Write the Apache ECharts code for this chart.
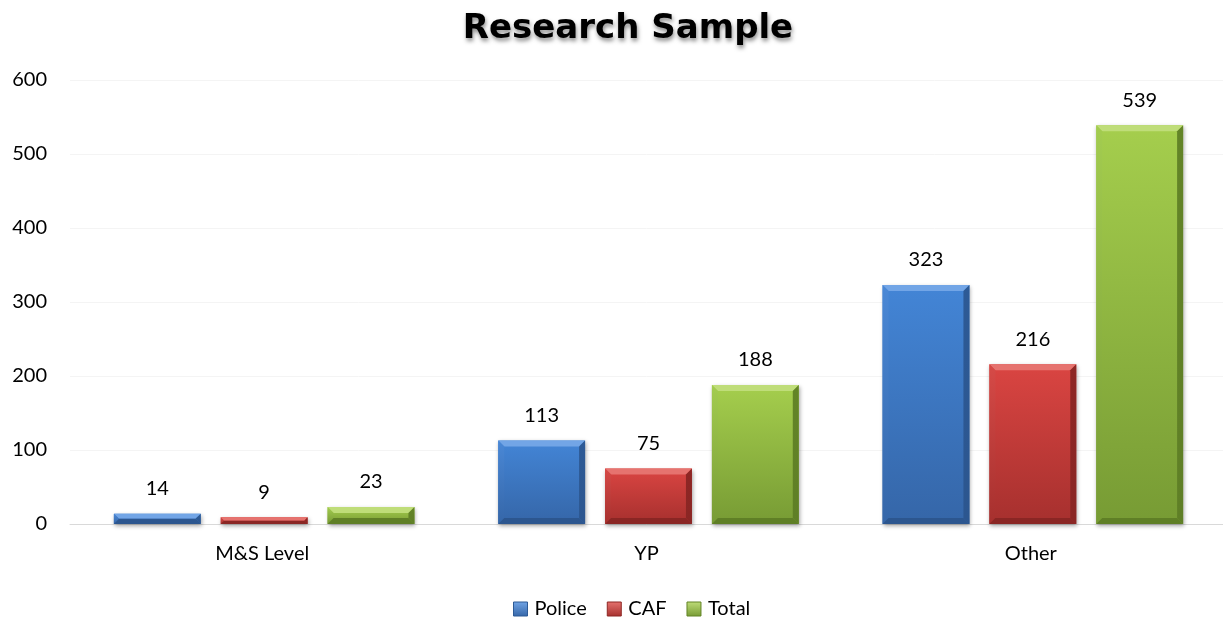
<!DOCTYPE html>
<html>
<head>
<meta charset="utf-8">
<title>Research Sample</title>
<script src="https://cdn.jsdelivr.net/npm/echarts@6/dist/echarts.min.js"></script>
<style>
  html, body { margin: 0; padding: 0; background: #fff; }
  #chart { width: 1223px; height: 622px; }
</style>
</head>
<body>
<div id="chart"></div>
<script>
// Data
const categories = ['M&S Level', 'YP', 'Other'];
const police = [14, 113, 323];
const caf = [9, 75, 216];
const total = [23, 188, 539];
const seriesNames = ['Police', 'CAF', 'Total'];
const yMin = 0, yMax = 600, yStep = 100;

const G = echarts.graphic;
const vgrad = (a, b) => new G.LinearGradient(0, 0, 0, 1, [{ offset: 0, color: a }, { offset: 1, color: b }]);

// Bevelled bar colours: face top/bottom, top bevel, left, right, bottom edges
const palettes = [
  { faceTop: '#4385d6', faceBot: '#3566a8', top: '#72a5e6', left: '#4a88d6', right: '#2d5a96', bottom: '#2c568f', legend: '#3a72bd' },
  { faceTop: '#da4542', faceBot: '#a6302e', top: '#e6736f', left: '#d64a47', right: '#8e2725', bottom: '#8a2624', legend: '#c23b39' },
  { faceTop: '#a5ce4d', faceBot: '#779b34', top: '#bfdd79', left: '#a3cc50', right: '#638427', bottom: '#5f7f26', legend: '#8fb541' }
];

function makeRender(slot, pal) {
  return function (params, api) {
    const cat = api.value(0);
    const v = api.value(1);
    const base = api.coord([cat, 0]);
    const top = api.coord([cat, v]);
    const band = api.size([1, 0])[0];
    const w = band * 0.226;
    const gap = band * 0.052;
    const cx = base[0] + 2 + (slot - 1) * (w + gap);
    const x0 = cx - w / 2, x1 = cx + w / 2;
    const y0 = top[1], y1 = base[1];
    const h = y1 - y0;
    const b = Math.min(6, h / 2, w / 2);
    return {
      type: 'group',
      children: [
        {
          type: 'rect',
          shape: { x: x0, y: y0, width: w, height: h },
          style: {
            fill: vgrad(pal.faceTop, pal.faceBot),
            shadowBlur: 4, shadowColor: 'rgba(0,0,0,0.35)', shadowOffsetX: 1, shadowOffsetY: 2
          }
        },
        { type: 'polygon', shape: { points: [[x0, y0], [x1, y0], [x1 - b, y0 + b], [x0 + b, y0 + b]] }, style: { fill: pal.top } },
        { type: 'polygon', shape: { points: [[x0, y0], [x0 + b, y0 + b], [x0 + b, y1 - b], [x0, y1]] }, style: { fill: vgrad(pal.left, pal.faceBot) } },
        { type: 'polygon', shape: { points: [[x1, y0], [x1, y1], [x1 - b, y1 - b], [x1 - b, y0 + b]] }, style: { fill: vgrad(pal.right, pal.bottom) } },
        { type: 'polygon', shape: { points: [[x0, y1], [x0 + b, y1 - b], [x1 - b, y1 - b], [x1, y1]] }, style: { fill: pal.bottom } },
        {
          type: 'text',
          x: cx, y: y0 - 15,
          style: { text: String(v), fill: '#000', font: '20px Lato', align: 'center', verticalAlign: 'bottom' }
        }
      ]
    };
  };
}

const valueSets = [police, caf, total];
const series = valueSets.map((vals, i) => ({
  name: seriesNames[i],
  type: 'custom',
  renderItem: makeRender(i, palettes[i]),
  itemStyle: { color: palettes[i].legend },
  encode: { x: 0, y: 1 },
  data: vals.map((v, k) => [k, v])
}));

const chart = echarts.init(document.getElementById('chart'), null, { renderer: 'canvas' });
chart.setOption({
  animation: false,
  backgroundColor: '#fff',
  title: {
    text: 'Research Sample',
    left: 623,
    top: 7,
    textAlign: 'center',
    textStyle: {
      fontFamily: 'DejaVu Sans', fontWeight: 'bold', fontSize: 34, color: '#000',
      textShadowColor: 'rgba(0,0,0,0.45)', textShadowBlur: 4, textShadowOffsetX: 1, textShadowOffsetY: 3
    }
  },
  legend: {
    left: 508,
    top: 594,
    itemWidth: 14,
    itemHeight: 14,
    itemGap: 20,
    icon: 'rect',
    textStyle: { fontFamily: 'Lato', fontSize: 20, color: '#000', padding: [0, 0, 0, 2] },
    data: seriesNames.map((n, i) => ({
      name: n,
      itemStyle: { color: vgrad(palettes[i].top, palettes[i].faceBot), borderColor: palettes[i].right, borderWidth: 1 }
    }))
  },
  grid: { left: 70, right: 0, top: 80, bottom: 98 },
  xAxis: {
    type: 'category',
    data: categories,
    axisLine: { show: true, lineStyle: { color: '#d9d9d9', width: 1 } },
    axisTick: { show: false },
    axisLabel: { fontFamily: 'Lato', fontSize: 20, color: '#000', margin: 20 },
    splitLine: { show: false }
  },
  yAxis: {
    type: 'value',
    min: yMin, max: yMax, interval: yStep,
    axisLine: { show: false },
    axisTick: { show: false },
    axisLabel: { fontFamily: 'Lato', fontSize: 20, color: '#000', margin: 23 },
    splitLine: { show: true, lineStyle: { color: '#f4f4f4', width: 1 } }
  },
  series: series
});
</script>
</body>
</html>
